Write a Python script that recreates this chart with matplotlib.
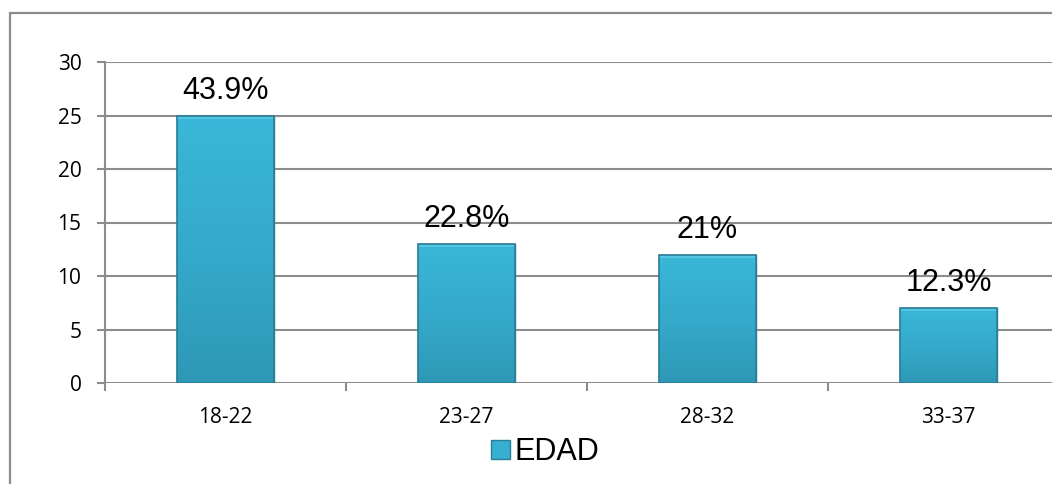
import matplotlib
matplotlib.use("Agg")
import matplotlib.pyplot as plt
import numpy as np
from matplotlib.patches import Rectangle, Patch
from matplotlib.colors import LinearSegmentedColormap

categories = ["18-22", "23-27", "28-32", "33-37"]
values = [25, 13, 12, 7]
labels = ["43.9%", "22.8%", "21%", "12.3%"]
series_name = "EDAD"
yticks = [0, 5, 10, 15, 20, 25, 30]

W, H = 1052, 484
fig = plt.figure(figsize=(W / 100, H / 100), dpi=100)
fig.patch.set_facecolor("white")

# outer chart border (extends beyond right/bottom edge)
fig.patches.append(Rectangle((10 / W, -0.1), 1.2, 1 - 13 / H + 0.1,
                             transform=fig.transFigure, fill=False,
                             edgecolor="#8C8C8C", linewidth=1.6))

ax = fig.add_axes([105 / W, 1 - 383 / H, 964 / W, (383 - 62) / H])

grid_c = "#8C8C8C"
for s in ["top", "right", "bottom"]:
    ax.spines[s].set_visible(False)
ax.spines["left"].set_color(grid_c)
ax.spines["left"].set_linewidth(1.5)
ax.set_axisbelow(True)
ax.yaxis.grid(True, color=grid_c, linewidth=1.5)

x = np.arange(len(categories))
bars = ax.bar(x, values, width=0.4, color="#36AFD0", edgecolor="#2A7E96",
              linewidth=1.0, zorder=3)

cmap = LinearSegmentedColormap.from_list("b", ["#2E98B6", "#35AACB", "#3AB7D8"])
grad = np.linspace(0, 1, 256).reshape(-1, 1)
for b in bars:
    x0, w, h = b.get_x(), b.get_width(), b.get_height()
    im = ax.imshow(grad, extent=[x0, x0 + w, 0, h], origin="lower", cmap=cmap,
                   aspect="auto", zorder=3.5)
    im.set_clip_path(b)
    # light bevel at top
    ax.add_patch(Rectangle((x0, h - 0.3), w, 0.3, facecolor="#62CDE8",
                           edgecolor="none", alpha=0.7, zorder=3.6))
    ax.add_patch(Rectangle((x0, 0), w, h, fill=False, edgecolor="#2A7E96",
                           linewidth=1.2, zorder=4))

ax.set_xlim(-0.5, len(categories) - 0.5)
ax.set_ylim(0, 30)

for b, lab in zip(bars, labels):
    ax.annotate(lab, (b.get_x() + b.get_width() / 2, b.get_height()),
                xytext=(0, 7), textcoords="offset points", ha="center",
                va="bottom", fontsize=22, family="Liberation Sans",
                color="black", zorder=5)

ax.set_yticks(yticks)
ax.set_yticklabels([str(t) for t in yticks], family="Open Sans", fontsize=15)
ax.tick_params(axis="y", length=6, width=1.5, color=grid_c, pad=11)

ax.set_xticks(x)
ax.set_xticklabels(categories, family="Open Sans", fontsize=15)
ax.set_xticks(np.arange(len(categories)) - 0.5, minor=True)
ax.tick_params(axis="x", which="major", length=0, pad=17)
ax.tick_params(axis="x", which="minor", length=6, width=1.5, color=grid_c)

handle = Patch(facecolor="#36AFD0", edgecolor="#2A7E96", label=series_name)
fig.legend(handles=[handle], loc="center", bbox_to_anchor=(545 / W, 1 - 452 / H),
           frameon=False, prop={"family": "Liberation Sans", "size": 22},
           handlelength=0.6, handleheight=0.6, handletextpad=0.15,
           borderpad=0, borderaxespad=0)

fig.savefig("out.png", dpi=100, facecolor="white")
